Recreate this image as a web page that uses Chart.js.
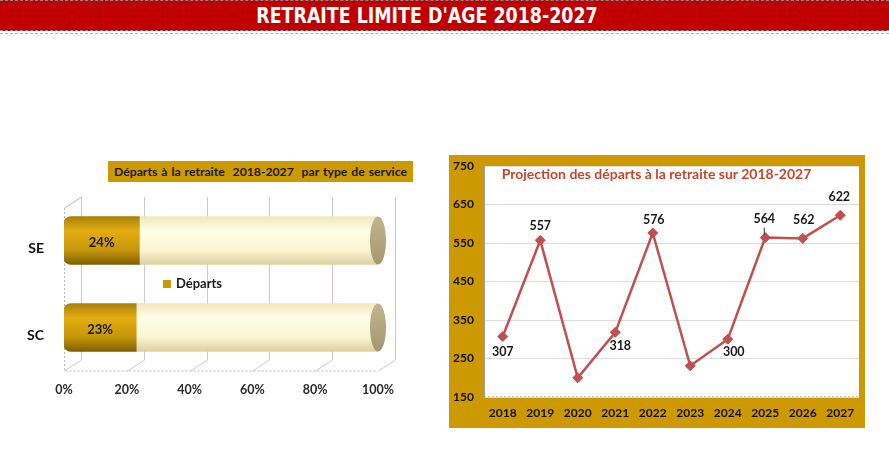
<!DOCTYPE html>
<html>
<head>
<meta charset="utf-8">
<script src="https://cdn.jsdelivr.net/npm/chart.js@4"></script>
<style>
  body { margin: 0; background: #fff; width: 889px; height: 458px; overflow: hidden; position: relative; font-family: Lato, "Open Sans", sans-serif; }
  #banner { position: absolute; left: 0; top: 0; width: 889px; height: 29px; background: #c00000;
            border-top: 1px dashed #8a8a8a; border-bottom: 1px dashed #8a8a8a; color: #fff;
            font: bold 22px "DejaVu Sans Condensed", "DejaVu Sans", sans-serif;
            text-align: center; line-height: 29px; }
  #banner span { display: inline-block; position: relative; left: -18px; transform: scaleX(0.88); }
  #banner-line { position: absolute; left: 0; top: 33px; width: 889px; border-top: 1px dashed #b0b0b0; }
  #leftTitle { position: absolute; left: 108px; top: 161px; width: 305px; height: 21px; background: #cc9900;
               font: bold 12.2px Lato, sans-serif; color: #1a1a1a; line-height: 21px; text-align: center; word-spacing: 1px; }
  #rightTitle { position: absolute; left: 484px; top: 165px; width: 345px; text-align: center;
                font: bold 14px Lato, sans-serif; color: #c8452a; z-index: 2; }
  .box { position: absolute; }
</style>
</head>
<body>
<div id="banner"><span>RETRAITE LIMITE D'AGE 2018-2027</span></div>
<div id="banner-line"></div>

<div class="box" style="left:0px; top:185px; width:430px; height:215px;"><canvas id="serviceChart"></canvas></div>
<div id="leftTitle">Départs à la retraite&nbsp; 2018-2027 &nbsp;par type de service</div>

<div class="box" style="left:449px; top:155px; width:416px; height:273px;"><canvas id="projectionChart"></canvas></div>
<div id="rightTitle">Projection des départs à la retraite sur 2018-2027</div>

<script>
// data
var serviceLabels = ['SE', 'SC'];
var departsPct = [24, 23];
var restePct = [76, 77];
var pctTicks = [0, 20, 40, 60, 80, 100];

var years = ['2018', '2019', '2020', '2021', '2022', '2023', '2024', '2025', '2026', '2027'];
var departures = [307, 557, 200, 318, 576, 231, 300, 564, 562, 622];
var yTicks = [150, 250, 350, 450, 550, 650, 750];

var GOLD = '#cc9900';
var BAR_H = 48;
var DEPTH_X = 17, DEPTH_Y = 11;

// vertical gradient following each bar, so the bars look like cylinders
function cylinderFill(stops) {
    return function (ctx) {
        var ys = ctx.chart.scales.y;
        if (!ys || ctx.type !== 'data') return stops[2];
        var yc = ys.getPixelForValue(ctx.dataIndex);
        if (!isFinite(yc)) return stops[2];
        var g = ctx.chart.ctx.createLinearGradient(0, yc - BAR_H / 2, 0, yc + BAR_H / 2);
        g.addColorStop(0, stops[0]);
        g.addColorStop(0.3, stops[1]);
        g.addColorStop(0.7, stops[2]);
        g.addColorStop(1, stops[3]);
        return g;
    };
}

function noPadX(s) { s.paddingLeft = 0; s.paddingRight = 0; }
function noPadY(s) { s.paddingTop = 0; s.paddingBottom = 0; }

// 3D-ish back wall grid + floor
var wallGrid = {
    id: 'wallGrid',
    beforeDatasetsDraw: function (chart) {
        var c = chart.ctx, a = chart.chartArea, xs = chart.scales.x;
        c.save();
        c.lineWidth = 1;
        c.strokeStyle = '#cfc6dc';
        pctTicks.forEach(function (t) {
            var px = Math.round(xs.getPixelForValue(t)) + 0.5;
            c.beginPath();
            c.moveTo(px + DEPTH_X, a.top);
            c.lineTo(px + DEPTH_X, a.bottom - DEPTH_Y);
            c.lineTo(px, a.bottom);
            c.stroke();
        });
        // left wall
        c.strokeStyle = '#b8b8b8';
        c.beginPath();
        c.moveTo(a.left + 0.5, a.top + DEPTH_Y);
        c.lineTo(a.left + DEPTH_X + 0.5, a.top);
        c.stroke();
        c.setLineDash([2, 2]);
        c.beginPath();
        c.moveTo(a.left + 0.5, a.top + DEPTH_Y);
        c.lineTo(a.left + 0.5, a.bottom);
        c.lineTo(xs.getPixelForValue(100), a.bottom);
        c.stroke();
        c.restore();
    },
    afterDatasetsDraw: function (chart) {
        var c = chart.ctx;
        var meta0 = chart.getDatasetMeta(0), meta1 = chart.getDatasetMeta(1);
        c.save();
        // end caps
        meta1.data.forEach(function (el) {
            var g = c.createLinearGradient(0, el.y - BAR_H / 2, 0, el.y + BAR_H / 2);
            g.addColorStop(0, '#c2b68f');
            g.addColorStop(1, '#a39770');
            c.fillStyle = g;
            c.beginPath();
            c.ellipse(el.x, el.y, 8, BAR_H / 2, 0, 0, Math.PI * 2);
            c.fill();
        });
        // percentage labels
        c.fillStyle = '#1a1a1a';
        c.font = 'bold 13px Lato, sans-serif';
        c.textAlign = 'center';
        c.textBaseline = 'middle';
        meta0.data.forEach(function (el, i) {
            c.fillText(departsPct[i] + '%', (el.x + el.base) / 2, el.y + 2);
        });
        // legend between the bars
        var xs = chart.scales.x;
        var ly = (meta0.data[0].y + meta0.data[1].y) / 2;
        var lx = xs.getPixelForValue(31.5);
        c.fillStyle = GOLD;
        c.fillRect(lx, ly - 4, 8, 8);
        c.fillStyle = '#1a1a1a';
        c.textAlign = 'left';
        c.fillText('Départs', lx + 13, ly);
        c.restore();
    }
};

new Chart(document.getElementById('serviceChart'), {
    type: 'bar',
    data: {
        labels: serviceLabels,
        datasets: [{
            label: 'Départs',
            data: departsPct,
            backgroundColor: cylinderFill(['#a8800a', '#e4ad12', '#c6960a', '#7e5f02']),
            borderRadius: { topLeft: 7, bottomLeft: 7, topRight: 0, bottomRight: 0 },
            borderSkipped: false,
            barThickness: BAR_H
        }, {
            label: 'Reste',
            data: restePct,
            backgroundColor: cylinderFill(['#efe7bd', '#fffde6', '#fbf5d2', '#ddd0a0']),
            borderSkipped: false,
            barThickness: BAR_H
        }]
    },
    options: {
        indexAxis: 'y',
        responsive: true,
        maintainAspectRatio: false,
        animation: false,
        layout: { padding: { top: 12, right: 52, left: 0, bottom: 0 } },
        plugins: { legend: { display: false }, tooltip: { enabled: false } },
        scales: {
            x: {
                stacked: true, min: 0, max: 100,
                afterBuildTicks: function (s) { s.ticks = pctTicks.map(function (v) { return { value: v }; }); },
                afterFit: function (s) { s.height = 29; },
                grid: { display: false, drawTicks: false },
                border: { display: false },
                ticks: { color: '#2a2a2a', font: { family: 'Lato', weight: 'bold', size: 12.5 }, padding: 11,
                         callback: function (v) { return v + '%'; } }
            },
            y: {
                stacked: true,
                afterFit: function (s) { s.width = 64; noPadY(s); },
                grid: { display: false, drawTicks: false },
                border: { display: false },
                ticks: { color: '#111', font: { family: 'Lato', weight: 'bold', size: 14 }, padding: 20, labelOffset: 8 }
            }
        }
    },
    plugins: [wallGrid]
});

// gold frame with white plot area
var frame = {
    id: 'frame',
    beforeDraw: function (chart) {
        var c = chart.ctx, a = chart.chartArea;
        c.save();
        c.fillStyle = GOLD;
        c.fillRect(0, 0, chart.width, chart.height);
        c.fillStyle = '#ffffff';
        c.fillRect(a.left, a.top, a.right - a.left, a.bottom - a.top);
        c.strokeStyle = '#c8c8c8';
        c.setLineDash([2, 2]);
        c.beginPath();
        c.moveTo(a.left, a.bottom - 0.5);
        c.lineTo(a.right, a.bottom - 0.5);
        c.stroke();
        c.restore();
    }
};

// where each value label sits: [dx, dy], null = no label
var labelSpots = [[0, 15], [0, -14], null, [5, 14], [1, -13], null, [6, 13], [-1, -19], [1, -18], [-1, -18]];

var valueLabels = {
    id: 'valueLabels',
    afterDatasetsDraw: function (chart) {
        var c = chart.ctx;
        c.save();
        c.fillStyle = '#1a1a1a';
        c.font = 'bold 12.5px Lato, sans-serif';
        c.textAlign = 'center';
        c.textBaseline = 'middle';
        chart.getDatasetMeta(0).data.forEach(function (pt, i) {
            var s = labelSpots[i];
            if (!s) return;
            c.fillText(departures[i], pt.x + s[0], pt.y + s[1]);
        });
        // small leader line for 2025
        var p = chart.getDatasetMeta(0).data[7];
        c.strokeStyle = '#333';
        c.lineWidth = 1;
        c.beginPath();
        c.moveTo(p.x - 1, p.y - 10);
        c.lineTo(p.x - 1, p.y - 3);
        c.stroke();
        c.restore();
    }
};

new Chart(document.getElementById('projectionChart'), {
    type: 'line',
    data: {
        labels: years,
        datasets: [{
            label: 'Départs',
            data: departures,
            borderColor: '#c0504d',
            backgroundColor: '#c0504d',
            borderWidth: 2.5,
            tension: 0,
            pointStyle: 'rectRot',
            pointRadius: 5,
            pointBorderWidth: 1
        }]
    },
    options: {
        responsive: true,
        maintainAspectRatio: false,
        animation: false,
        layout: { padding: { top: 11, right: 1, left: 0, bottom: 0 } },
        plugins: { legend: { display: false }, tooltip: { enabled: false } },
        scales: {
            x: {
                offset: true,
                afterFit: function (s) { s.height = 31; noPadX(s); },
                grid: { display: false, drawTicks: false },
                border: { display: false },
                ticks: { color: '#111', font: { family: 'Lato', weight: 'bold', size: 12 }, padding: 9, maxRotation: 0 }
            },
            y: {
                min: 150, max: 750,
                afterBuildTicks: function (s) { s.ticks = yTicks.map(function (v) { return { value: v }; }); },
                afterFit: function (s) { s.width = 35; noPadY(s); },
                grid: { color: '#dcdcdc', drawTicks: false },
                border: { display: true, color: '#a0a0a0' },
                ticks: { color: '#111', font: { family: 'Lato', weight: 'bold', size: 12 }, padding: 10 }
            }
        }
    },
    plugins: [frame, valueLabels]
});
</script>
</body>
</html>
